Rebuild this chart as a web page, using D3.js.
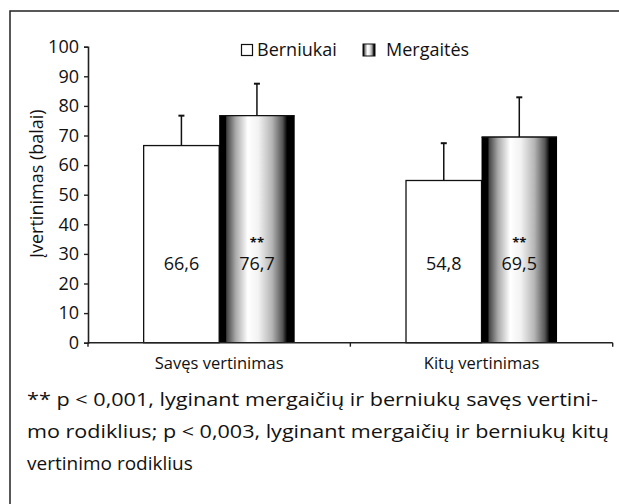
<!DOCTYPE html>
<html lang="lt">
<head>
<meta charset="utf-8">
<title>Vertinimas</title>
<script src="https://cdn.jsdelivr.net/npm/d3@7"></script>
<style>
  body { margin: 0; background: #fff; }
  svg text { font-family: "Open Sans", "Noto Sans", sans-serif; fill: #111; }
</style>
</head>
<body>
<div id="chart"></div>
<script>
  // data
  const categories = ['Savęs vertinimas', 'Kitų vertinimas'];
  const series = ['Berniukai', 'Mergaitės'];
  const boys = [66.6, 54.8];
  const girls = [76.7, 69.5];
  const boysSd = [10.1, 12.6];
  const girlsSd = [10.8, 13.4];
  const stars = ['', '**'];   // per series
  const yTicks = [0, 10, 20, 30, 40, 50, 60, 70, 80, 90, 100];
  const yLabel = 'Įvertinimas (balai)';
  const note = [
    '** p < 0,001, lyginant mergaičių ir berniukų savęs vertini-',
    'mo rodiklius; p < 0,003, lyginant mergaičių ir berniukų kitų',
    'vertinimo rodiklius'
  ];

  const width = 619, height = 504;
  const margin = { top: 46.7, left: 88, right: 6.3, bottom: 161.3 };

  const svg = d3.select('#chart').append('svg').attr('width', width).attr('height', height);

  // gradient for the girls bars
  const grad = svg.append('defs').append('linearGradient').attr('id', 'girlGrad')
    .attr('x1', '0%').attr('x2', '100%').attr('y1', '0%').attr('y2', '0%');
  [[0, '#000'], [0.085, '#000'], [0.1, '#444'], [0.22, '#aaa'], [0.38, '#fff'],
   [0.52, '#f2f2f2'], [0.7, '#b5b5b5'], [0.84, '#555'], [0.9, '#000'], [1, '#000']]
    .forEach(s => grad.append('stop').attr('offset', s[0]).attr('stop-color', s[1]));

  // outer frame (only left/top inside the crop)
  svg.append('rect').attr('x', 10).attr('y', 11).attr('width', 700).attr('height', 700)
    .attr('fill', 'none').attr('stroke', '#222').attr('stroke-width', 1.5);

  const y = d3.scaleLinear().domain([0, 100]).range([height - margin.bottom, margin.top]);
  const x0 = d3.scaleBand().domain(categories).range([margin.left, width - margin.right]);
  const x1 = d3.scaleBand().domain(series).range([0, x0.bandwidth()]).paddingOuter(0.737);

  const rows = categories.map((c, i) => ({
    cat: c,
    bars: [
      { s: series[0], v: boys[i], sd: boysSd[i], star: stars[0] },
      { s: series[1], v: girls[i], sd: girlsSd[i], star: stars[1] }
    ]
  }));

  // y axis
  const yAxis = svg.append('g').attr('transform', `translate(${margin.left},0)`)
    .call(d3.axisLeft(y).tickValues(yTicks).tickSize(4).tickPadding(5));
  yAxis.select('.domain').attr('stroke', '#222').attr('stroke-width', 1.6);
  yAxis.selectAll('.tick line').attr('stroke', '#222').attr('stroke-width', 1.4);
  yAxis.selectAll('.tick text').attr('font-size', 18).attr('fill', '#111')
    .style('font-family', '"Open Sans", sans-serif');

  // bars
  const grp = svg.selectAll('g.grp').data(rows).enter().append('g')
    .attr('class', 'grp').attr('transform', d => `translate(${x0(d.cat)},0)`);

  const bar = grp.selectAll('g.bar').data(d => d.bars).enter().append('g').attr('class', 'bar');

  // error bars
  bar.append('line')
    .attr('x1', d => x1(d.s) + x1.bandwidth() / 2).attr('x2', d => x1(d.s) + x1.bandwidth() / 2)
    .attr('y1', d => y(d.v)).attr('y2', d => y(d.v + d.sd))
    .attr('stroke', '#111').attr('stroke-width', 1.5);
  bar.append('line')
    .attr('x1', d => x1(d.s) + x1.bandwidth() / 2 - 3).attr('x2', d => x1(d.s) + x1.bandwidth() / 2 + 3)
    .attr('y1', d => y(d.v + d.sd)).attr('y2', d => y(d.v + d.sd))
    .attr('stroke', '#111').attr('stroke-width', 2);

  bar.append('rect')
    .attr('x', d => x1(d.s)).attr('width', x1.bandwidth())
    .attr('y', d => y(d.v)).attr('height', d => y(0) - y(d.v))
    .attr('fill', d => d.s === series[0] ? '#fff' : 'url(#girlGrad)')
    .attr('stroke', '#111').attr('stroke-width', d => d.s === series[0] ? 1.3 : 0);
  // top edge of gradient bar
  bar.filter(d => d.s === series[1]).append('line')
    .attr('x1', d => x1(d.s)).attr('x2', d => x1(d.s) + x1.bandwidth())
    .attr('y1', d => y(d.v)).attr('y2', d => y(d.v))
    .attr('stroke', '#111').attr('stroke-width', 1.3);

  bar.append('text')
    .attr('x', d => x1(d.s) + x1.bandwidth() / 2).attr('y', y(24.6))
    .attr('text-anchor', 'middle').attr('font-size', 18)
    .text(d => d.v.toFixed(1).replace('.', ','));
  bar.filter(d => d.star).append('text')
    .attr('x', d => x1(d.s) + x1.bandwidth() / 2).attr('y', y(32.3))
    .attr('text-anchor', 'middle').attr('font-size', 13).attr('font-weight', 'bold')
    .text(d => d.star);

  // x axis
  const xAxisY = y(0);
  svg.append('line').attr('x1', margin.left).attr('x2', width - margin.right)
    .attr('y1', xAxisY).attr('y2', xAxisY).attr('stroke', '#222').attr('stroke-width', 1.6);
  const bounds = categories.map(c => x0(c)).concat([x0(categories[1]) + x0.bandwidth()]);
  svg.selectAll('line.xtick').data(bounds).enter().append('line').attr('class', 'xtick')
    .attr('x1', d => d).attr('x2', d => d).attr('y1', xAxisY).attr('y2', xAxisY + 4)
    .attr('stroke', '#222').attr('stroke-width', 1.4);
  svg.selectAll('text.cat').data(categories).enter().append('text').attr('class', 'cat')
    .attr('x', d => x0(d) + x0.bandwidth() / 2).attr('y', xAxisY + 26)
    .attr('text-anchor', 'middle').attr('font-size', 16.5).text(d => d);

  // y label
  svg.append('text')
    .attr('transform', `translate(43,${(y(0) + y(100)) / 2 - 11}) rotate(-90)`)
    .attr('text-anchor', 'middle').attr('font-size', 18).text(yLabel);

  // legend
  const leg = svg.append('g');
  leg.append('rect').attr('x', 241.5).attr('y', 44.5).attr('width', 11).attr('height', 11)
    .attr('fill', '#fff').attr('stroke', '#111').attr('stroke-width', 1.2);
  leg.append('text').attr('x', 257).attr('y', 56).attr('font-size', 18).text(series[0]);
  leg.append('rect').attr('x', 363).attr('y', 44).attr('width', 12).attr('height', 12)
    .attr('fill', 'url(#girlGrad)').attr('stroke', '#111').attr('stroke-width', 1);
  leg.append('text').attr('x', 386).attr('y', 56).attr('font-size', 18).text(series[1]);

  // footnote, justified lines stretched to the reference widths
  const noteW = [571, 582, 0];
  svg.selectAll('text.note').data(note).enter().append('text').attr('class', 'note')
    .attr('x', 27).attr('y', (d, i) => 406 + i * 32)
    .attr('font-size', 19)
    .each(function (d, i) {
      if (noteW[i]) d3.select(this).attr('textLength', noteW[i]).attr('lengthAdjust', 'spacingAndGlyphs');
    })
    .text(d => d);
</script>
</body>
</html>
